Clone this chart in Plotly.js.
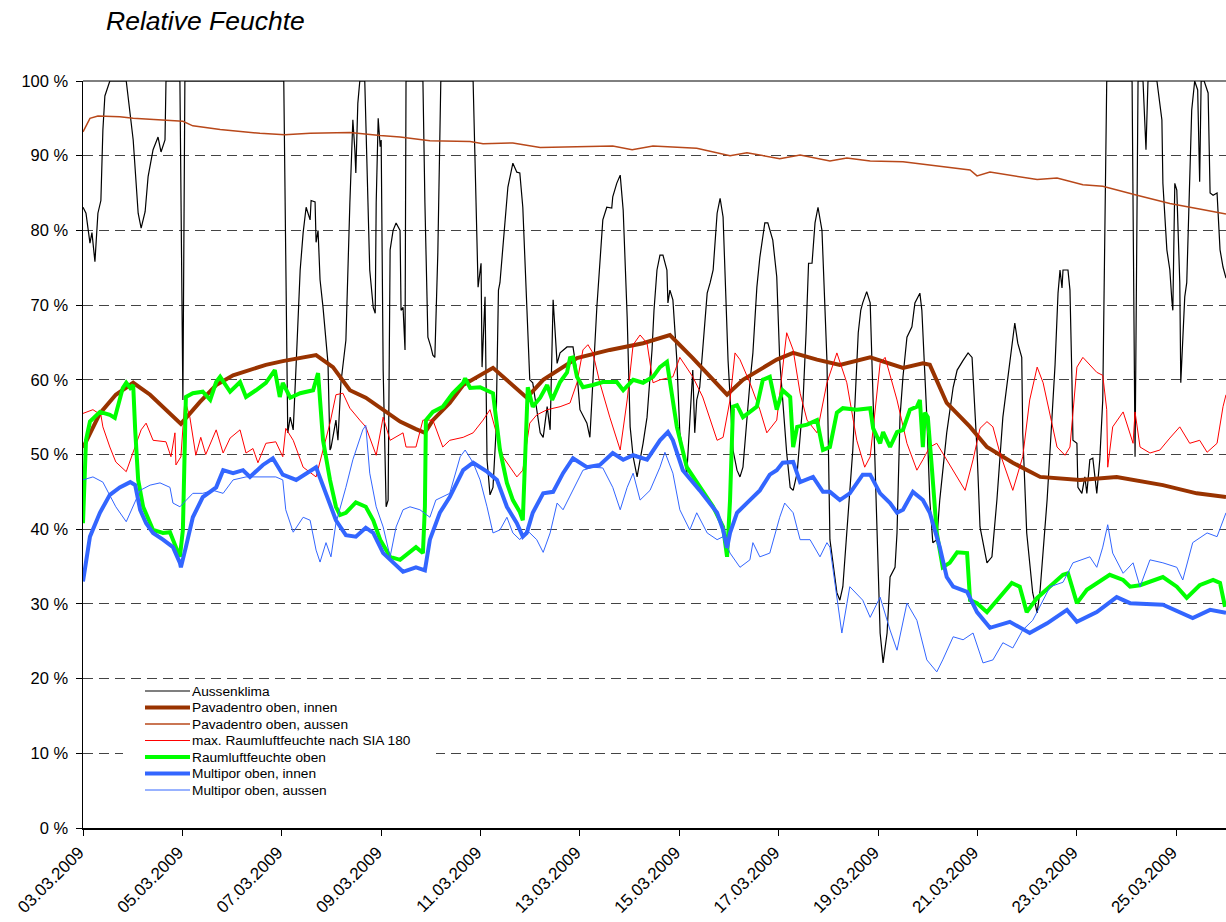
<!DOCTYPE html>
<html>
<head>
<meta charset="utf-8">
<script src="https://cdn.plot.ly/plotly-3.0.1.min.js"></script>
<style>html,body{margin:0;padding:0;background:#fff;}#chart{width:1226px;height:922px;}</style>
</head>
<body>
<div id="chart"></div>
<script>
// Day offsets from 03.03.2009 00:00, relative humidity in %
const startDate = Date.UTC(2009, 2, 3);
const seriesNames = ["Aussenklima", "Pavadentro oben, innen", "Pavadentro oben, aussen",
  "max. Raumluftfeuchte nach SIA 180", "Raumluftfeuchte oben", "Multipor oben, innen", "Multipor oben, aussen"];

const aussenklima = [[0,83.1],[0.06,82.3],[0.14,78.3],[0.18,79.7],[0.24,75.8],[0.30,82.3],[0.36,84],[0.40,93.4],[0.44,98],[0.54,100],[0.87,100],[1.01,92.1],[1.11,82.3],[1.17,80.3],[1.25,82.5],[1.31,87.2],[1.41,90.8],[1.51,92.5],[1.57,90.5],[1.65,92.1],[1.67,100],[1.95,100],[2.01,57.3],[2.05,100],[4.04,100],[4.12,52.9],[4.17,55],[4.23,53.3],[4.29,62.2],[4.37,74.7],[4.43,79.7],[4.49,83.1],[4.57,81.4],[4.59,84],[4.67,83.8],[4.69,78.4],[4.73,80],[4.77,73.4],[4.83,69.7],[4.93,62.2],[4.97,50.6],[4.99,50.9],[5.09,54.6],[5.13,51.9],[5.19,59.6],[5.29,65.3],[5.37,83.7],[5.43,94.8],[5.47,90.8],[5.49,87.7],[5.53,97],[5.57,100],[5.67,100],[5.77,74.7],[5.84,69.7],[5.88,68.9],[5.90,83.7],[5.94,95],[5.98,91.2],[6.00,92.1],[6.04,61.3],[6.10,43],[6.14,43.9],[6.18,77.4],[6.24,80],[6.30,81],[6.38,80],[6.40,69.3],[6.44,69.7],[6.48,64],[6.50,100],[6.84,100],[6.88,83.7],[6.94,65.7],[7.00,64.4],[7.04,63.3],[7.08,63],[7.14,77],[7.20,100],[7.85,100],[7.95,72.4],[8.01,75.6],[8.03,61.7],[8.09,71.1],[8.13,49.3],[8.19,44.6],[8.25,45.6],[8.31,52.9],[8.36,72],[8.39,73],[8.55,85.8],[8.65,89],[8.73,87.8],[8.79,87.7],[8.85,83.1],[8.99,60],[9.05,59.6],[9.20,52.9],[9.26,52.3],[9.34,56.4],[9.40,53.3],[9.44,68],[9.46,70.7],[9.54,62.2],[9.60,63.6],[9.74,64.4],[9.86,64.4],[9.94,60.9],[10.00,56],[10.14,54.2],[10.20,52.3],[10.34,69.7],[10.40,75.6],[10.46,81.4],[10.54,83.1],[10.64,83],[10.66,84.5],[10.74,86.3],[10.81,87.4],[10.87,82.7],[10.95,68.4],[11.01,53.7],[11.07,49.7],[11.15,47],[11.21,49.3],[11.27,51.5],[11.35,55],[11.45,64],[11.49,69.3],[11.55,74.7],[11.61,76.7],[11.67,76.7],[11.75,74.7],[11.77,70.3],[11.81,72],[11.87,70.7],[11.95,62.6],[12.01,52.9],[12.15,47.5],[12.27,61.3],[12.31,52.9],[12.35,57.3],[12.41,59],[12.56,71.6],[12.62,73],[12.68,74.7],[12.76,82.3],[12.82,84.3],[12.88,81.8],[12.98,62.6],[13.08,50.6],[13.16,47.9],[13.22,47],[13.28,48.3],[13.42,59.6],[13.48,63.6],[13.56,72.4],[13.62,76.4],[13.72,81],[13.78,81],[13.88,78.7],[13.96,73.8],[14.02,62.6],[14.08,57.3],[14.16,50.2],[14.23,45.6],[14.29,45.2],[14.37,47.5],[14.49,57.3],[14.55,66.3],[14.60,75.6],[14.67,75.6],[14.73,81],[14.79,83.1],[14.87,80],[14.97,62.6],[15.03,38.6],[15.17,31.5],[15.23,30.5],[15.29,32.3],[15.37,39.5],[15.49,50.6],[15.60,66.3],[15.65,69.3],[15.69,70.3],[15.77,71.8],[15.84,70.3],[15.90,57.3],[15.98,39.5],[16.04,26.1],[16.10,22.1],[16.18,26.1],[16.24,33.6],[16.34,34.9],[16.38,39.5],[16.44,55],[16.50,60.4],[16.58,65.7],[16.68,67.1],[16.74,70.3],[16.84,71.6],[16.88,69.3],[16.98,55],[17.04,43.9],[17.10,38.2],[17.18,38.6],[17.24,43.9],[17.38,52.9],[17.51,59],[17.59,61.3],[17.71,62.6],[17.81,63.6],[17.89,63],[17.91,60.4],[17.99,50.6],[18.05,40.3],[18.19,35.5],[18.29,36.3],[18.39,43.9],[18.51,55],[18.65,62.6],[18.75,67.6],[18.81,64.9],[18.89,63],[18.91,52.9],[18.99,39.5],[19.11,31.5],[19.20,28.8],[19.26,31.9],[19.40,43.9],[19.46,50.6],[19.56,62],[19.62,71.6],[19.66,74.7],[19.70,72.3],[19.72,74.7],[19.82,74.7],[19.86,72],[19.90,60],[19.92,51.9],[20.00,51.5],[20.02,45.6],[20.10,44.8],[20.16,47],[20.20,44.8],[20.26,49.3],[20.32,49.5],[20.40,44.8],[20.46,49.3],[20.52,57.3],[20.60,100],[21.11,100],[21.17,49.7],[21.23,100],[21.33,100],[21.39,90.8],[21.43,100],[21.61,100],[21.71,94.8],[21.73,86.3],[21.81,77.4],[21.87,74.7],[21.91,70.7],[21.93,69.3],[21.97,86.3],[22.01,85.4],[22.07,73],[22.09,59.6],[22.17,71.1],[22.21,73],[22.31,96.1],[22.37,100],[22.43,98.8],[22.47,86.5],[22.50,100],[22.56,100],[22.64,98.4],[22.68,85],[22.74,84.7],[22.82,85],[22.88,77.4],[22.94,75.1],[23.00,73.6]];

const pavInnen = [[0,50.9],[0.34,55.5],[0.66,58],[1.01,59.6],[1.35,58],[1.67,56],[1.97,54.1],[2.35,57],[2.68,59.3],[3.02,60.6],[3.36,61.3],[3.68,62],[4.02,62.5],[4.69,63.3],[5.03,61.7],[5.37,58.6],[5.69,57.6],[6.04,56],[6.38,54.4],[6.70,53.4],[6.88,52.9],[7.04,54.6],[7.38,56.9],[7.65,59.3],[8.25,61.6],[8.93,57.6],[9.26,60],[9.94,62.9],[10.60,64],[11.27,64.9],[11.81,66],[12.27,62.9],[12.96,58],[13.28,60],[13.96,62.7],[14.29,63.6],[14.77,62.7],[15.23,62],[15.84,63],[16.50,61.6],[16.90,62.2],[17.04,62],[17.38,56.9],[17.85,53.7],[18.19,51],[18.71,48.9],[19.26,47],[20.06,46.6],[20.80,47],[21.73,45.9],[22.41,44.8],[23.0,44.3]];

const pavAussen = [[0,93.2],[0.14,95.0],[0.30,95.3],[0.74,95.2],[1.01,95.0],[1.65,94.8],[2.01,94.6],[2.21,94.0],[2.76,93.5],[3.56,93.0],[4.06,92.8],[4.57,93.0],[5.37,93.1],[5.98,92.7],[6.38,92.5],[6.98,92.0],[7.79,91.9],[8.05,91.6],[8.65,91.7],[9.20,91.1],[10.0,91.2],[10.66,91.3],[11.05,90.8],[11.47,91.3],[12.35,91.0],[13.02,90.0],[13.36,90.4],[14.02,89.6],[14.43,90.1],[15.03,89.3],[15.37,89.7],[15.84,89.3],[16.50,89.2],[17.85,88.1],[17.99,87.3],[18.25,87.8],[19.20,86.8],[19.60,87.0],[20.12,86.1],[20.52,85.9],[21.21,84.7],[21.87,83.6],[22.52,82.8],[23.0,82.2]];

const siaMax = [[0,55.5],[0.20,56],[0.36,55.3],[0.40,53.7],[0.54,51],[0.66,49],[0.87,47.7],[1.01,50.2],[1.17,53.3],[1.27,54.2],[1.41,51.9],[1.67,51.7],[1.77,49.7],[1.85,52.9],[1.87,48.6],[1.97,49.7],[2.05,57.3],[2.15,55],[2.27,49.9],[2.37,52.3],[2.47,50],[2.68,53.3],[2.82,50.2],[2.96,52.2],[3.16,53.3],[3.28,50.2],[3.42,50.8],[3.52,48.9],[3.68,51.5],[3.88,51.7],[4.02,49.7],[4.08,53.5],[4.23,51.9],[4.43,48.3],[4.69,47],[4.97,54.2],[5.09,58],[5.23,58.2],[5.37,56.2],[5.57,54.6],[5.69,53.7],[5.90,49.9],[6.04,55],[6.18,51.9],[6.44,52.9],[6.50,51],[6.70,51],[6.84,54.6],[7.04,54.6],[7.24,51],[7.38,51.9],[7.65,52.3],[7.85,52.9],[8.05,54.6],[8.19,56],[8.45,49.7],[8.73,47],[8.85,47.9],[8.99,54.2],[9.13,55.3],[9.34,56],[9.60,56.4],[9.80,56.9],[9.94,59.6],[10.06,64],[10.16,64.7],[10.26,63.6],[10.40,59.6],[10.60,55],[10.81,50.6],[10.95,57.3],[11.07,64.7],[11.21,66],[11.35,64.9],[11.47,59.6],[11.61,60],[11.87,60.4],[12.01,63],[12.27,60.4],[12.47,57.7],[12.76,51.9],[12.88,52.3],[13.02,57.3],[13.12,63.6],[13.22,62.7],[13.42,59.6],[13.62,56],[13.76,52.9],[13.96,54.6],[14.16,66.3],[14.29,64],[14.43,58.2],[14.57,54.6],[14.77,52.9],[14.97,59.6],[15.17,63.6],[15.37,59.6],[15.57,51.9],[15.73,48.3],[15.84,49.7],[16.04,62.2],[16.14,63],[16.38,57.3],[16.58,51.5],[16.78,47.9],[16.90,49.3],[17.04,51],[17.18,51.5],[17.59,47],[17.75,45.2],[17.91,49.3],[18.05,53.5],[18.19,54.4],[18.31,53.7],[18.45,50.2],[18.71,45.2],[18.91,49.7],[19.05,57.3],[19.20,61.7],[19.32,59.6],[19.60,51],[19.76,49.9],[19.86,51],[20.00,61.7],[20.12,63],[20.40,61],[20.52,60.6],[20.60,56],[20.62,48.3],[20.72,53.7],[20.93,55.7],[21.13,51.5],[21.17,55.7],[21.27,51],[21.47,50.2],[21.67,50.6],[21.87,52.2],[22.07,53.7],[22.27,51.5],[22.47,51.9],[22.62,50.3],[22.82,51.5],[22.94,56.4],[23.0,58]];

const raumluft = [[0,40.8],[0.06,51.9],[0.14,54.4],[0.34,55.7],[0.54,55.3],[0.64,54.9],[0.80,58.9],[0.87,59.6],[0.95,58.9],[1.01,59.3],[1.05,53.3],[1.11,46.6],[1.21,43],[1.41,39.9],[1.61,39.5],[1.75,39.6],[1.87,37.6],[1.95,36.3],[2.01,39.9],[2.05,55.6],[2.07,57.7],[2.21,58.2],[2.41,58.4],[2.56,57.3],[2.68,59.7],[2.76,60.4],[2.96,58.4],[3.16,59.7],[3.28,57.7],[3.48,58.6],[3.68,59.6],[3.86,61.3],[3.96,57.7],[4.02,59.6],[4.17,57.6],[4.37,58.2],[4.63,58.6],[4.73,60.9],[4.77,57.7],[4.83,51.9],[4.97,46.6],[5.09,43],[5.17,41.9],[5.29,42.2],[5.49,43.6],[5.69,43],[5.84,41.2],[5.98,38.6],[6.18,36.3],[6.38,35.9],[6.70,37.6],[6.84,36.8],[6.88,43],[6.90,54.6],[7.04,55.7],[7.24,56.4],[7.44,58.2],[7.65,59.6],[7.69,60.2],[7.79,58.9],[7.99,59],[8.25,58.2],[8.39,50.6],[8.53,46.2],[8.65,43.9],[8.79,42.3],[8.85,41.2],[8.95,59],[9.05,56.4],[9.20,57.6],[9.34,59.3],[9.44,57.3],[9.60,59.7],[9.74,61],[9.80,62.9],[9.86,63],[9.94,60.4],[10.06,59],[10.26,59.3],[10.46,59.7],[10.74,59.7],[10.87,58.6],[11.07,60],[11.27,59.6],[11.47,60.4],[11.61,61.7],[11.75,62.4],[11.81,59.6],[11.95,53.7],[12.15,48.3],[12.41,45.6],[12.68,43],[12.88,40.3],[12.96,36.3],[13.02,43.9],[13.08,56.4],[13.16,56.6],[13.28,55],[13.56,56.4],[13.68,60],[13.82,60.4],[13.96,56],[14.08,58.6],[14.23,57.7],[14.29,51],[14.37,53.7],[14.57,54],[14.77,54.6],[14.89,50.6],[15.03,51],[15.17,55.6],[15.29,56.2],[15.57,56],[15.84,56.2],[15.90,53.5],[16.04,51.5],[16.10,53],[16.24,51],[16.38,53],[16.50,53.3],[16.64,56],[16.78,56.4],[16.84,57.3],[16.90,51],[16.94,55.6],[17.00,55],[17.08,48.3],[17.18,39.5],[17.30,34.9],[17.44,35.5],[17.59,36.9],[17.79,36.8],[17.85,30.5],[17.99,30.1],[18.19,28.9],[18.39,30.5],[18.59,31.9],[18.69,32.8],[18.85,32.3],[18.99,28.9],[19.20,30.8],[19.46,32.3],[19.72,33.9],[19.82,34.1],[20.00,30.1],[20.20,31.9],[20.40,32.8],[20.66,33.9],[20.93,33.2],[21.07,32.3],[21.27,32.5],[21.53,33.2],[21.73,33.6],[22.01,32.3],[22.21,30.8],[22.47,32.5],[22.74,33.2],[22.88,32.8],[22.98,29.6]];

const multiporInnen = [[0,33],[0.14,39],[0.34,42.2],[0.54,44.6],[0.74,45.6],[0.95,46.3],[1.05,45.9],[1.15,42.6],[1.27,40.8],[1.41,39.5],[1.61,38.6],[1.81,37.6],[1.95,35.5],[1.97,34.9],[2.07,37.6],[2.21,41.6],[2.41,44.3],[2.68,45.6],[2.82,47.9],[3.02,47.5],[3.22,47.9],[3.36,47],[3.62,48.6],[3.82,49.5],[4.02,47.3],[4.29,46.6],[4.69,48.3],[4.89,44.8],[5.09,41.2],[5.29,39.2],[5.49,39],[5.69,40.2],[5.84,39.5],[6.04,36.8],[6.24,35.5],[6.44,34.3],[6.70,34.9],[6.88,34.5],[6.98,38.6],[7.18,42.2],[7.38,44.3],[7.65,47.9],[7.85,48.9],[8.13,47.7],[8.33,46.6],[8.53,43],[8.73,40.8],[8.85,39],[8.93,39.5],[9.05,42.2],[9.26,44.8],[9.46,45],[9.66,47.5],[9.86,49.5],[10.14,48.3],[10.40,48.6],[10.66,50.2],[10.87,49.3],[11.07,49.9],[11.35,49.3],[11.61,51.9],[11.77,53],[11.87,51.9],[12.07,47.9],[12.41,45.2],[12.76,42.2],[12.88,39.9],[12.96,37.5],[13.02,39.5],[13.16,42.2],[13.42,43.9],[13.62,45.2],[13.82,47.3],[13.96,47.9],[14.08,48.9],[14.29,49],[14.43,46.3],[14.69,47],[14.89,45],[15.03,45],[15.23,43.9],[15.43,44.8],[15.69,47.3],[15.84,47.3],[16.04,44.8],[16.24,43.5],[16.38,42.2],[16.50,42.6],[16.70,45],[16.90,43.9],[17.04,42.2],[17.24,37.6],[17.38,33.6],[17.51,32.3],[17.79,31.6],[17.99,28.9],[18.25,26.8],[18.65,27.6],[19.05,26.1],[19.40,27.4],[19.80,29.2],[20.00,27.6],[20.40,28.9],[20.80,30.9],[21.07,30.1],[21.73,29.9],[22.33,28.1],[22.68,29.2],[23.0,28.8]];

const multiporAussen = [[0,46.6],[0.20,47],[0.40,46.3],[0.66,43],[0.87,41],[1.01,43],[1.15,45.2],[1.35,45.9],[1.55,46.2],[1.75,45.6],[1.81,43.5],[1.95,43],[2.07,43.9],[2.21,44.8],[2.41,44.8],[2.62,45.2],[2.82,44.8],[3.02,46.6],[3.28,47],[3.56,47],[3.88,47],[4.02,46.6],[4.08,42.6],[4.23,39.6],[4.43,41.6],[4.57,41.2],[4.69,37.2],[4.77,35.6],[4.89,38.2],[4.99,36.3],[5.09,40.8],[5.29,45.6],[5.43,49.3],[5.63,53.3],[5.69,53.9],[5.77,47.5],[5.90,43],[6.04,40.3],[6.18,36.3],[6.30,40.3],[6.44,42.6],[6.58,43],[6.78,42.6],[6.98,41.6],[7.10,43.9],[7.38,44.8],[7.59,49.7],[7.69,50.6],[7.85,48.9],[7.99,46.6],[8.13,43],[8.25,39.5],[8.39,39.9],[8.53,41.6],[8.65,39.5],[8.79,38.6],[8.93,39.9],[9.13,38.6],[9.26,36.9],[9.40,39.5],[9.54,43.5],[9.66,42.6],[9.86,45.2],[10.06,47.9],[10.26,48.3],[10.46,48.2],[10.66,45.6],[10.81,42.6],[10.95,45.6],[11.07,47.5],[11.21,43.9],[11.41,45.2],[11.61,48.3],[11.71,50.3],[11.87,47.5],[12.01,42.6],[12.21,39.9],[12.35,42.2],[12.56,39.5],[12.76,38.6],[12.88,39],[13.02,36.8],[13.22,34.9],[13.42,35.9],[13.48,38.2],[13.62,36.3],[13.82,36.8],[14.02,41.6],[14.12,43.5],[14.29,42.2],[14.43,38.6],[14.63,38.6],[14.83,36.3],[14.97,38.2],[15.03,37.6],[15.17,31],[15.27,26.1],[15.43,32.3],[15.69,30.5],[15.84,28.2],[16.04,30.9],[16.24,26.5],[16.38,23.8],[16.58,30.1],[16.78,27.8],[16.98,22.5],[17.18,20.9],[17.30,22.5],[17.51,25.6],[17.71,25.2],[17.91,26.1],[18.11,22.1],[18.31,22.5],[18.51,24.8],[18.71,24.1],[18.91,26.5],[19.11,27.8],[19.46,32.3],[19.72,32.9],[19.92,35.5],[20.26,36.3],[20.40,34.9],[20.52,37.6],[20.62,40.6],[20.72,36.8],[20.93,34.1],[21.13,35.5],[21.27,32.3],[21.47,35.9],[21.73,35.5],[22.01,34.9],[22.13,33.2],[22.33,38.2],[22.62,39.5],[22.82,39],[23.0,42.2]];

const yTickSuffix = " %";
const xTickFormat = "%d.%m.%Y";

function toX(d) { return startDate + d * 86400000; }
function mk(data, name, color, width) {
  return { x: data.map(p => toX(p[0])), y: data.map(p => p[1]), name: name, type: 'scatter', mode: 'lines',
    line: { color: color, width: width }, hoverinfo: 'skip', showlegend: false };
}

const traces = [
  mk(aussenklima, seriesNames[0], '#000000', 1.2),
  mk(pavInnen, seriesNames[1], '#993300', 4),
  mk(pavAussen, seriesNames[2], '#B8481A', 1.5),
  mk(siaMax, seriesNames[3], '#FF0000', 1),
  mk(raumluft, seriesNames[4], '#00FF00', 4),
  mk(multiporInnen, seriesNames[5], '#3366FF', 4),
  mk(multiporAussen, seriesNames[6], '#3366FF', 1),
];

const FONT = 'Liberation Sans, Arial, sans-serif';
const W = 1226, H = 922, ML = 83, MR = 0, MT = 81, MB = 94;
const plotW = W - ML - MR, plotH = H - MT - MB;
const px2paperX = px => (px - ML) / plotW;
const px2paperY = py => (H - MB - py) / plotH;

// Compact legend with white box (shapes + annotations so the row spacing matches)
const legendShapes = [{ type: 'rect', xref: 'paper', yref: 'paper', x0: px2paperX(123), x1: px2paperX(436),
  y0: px2paperY(800), y1: px2paperY(682), fillcolor: '#ffffff', line: { width: 0 } }];
const legendAnnots = [];
traces.forEach((tr, i) => {
  const yy = px2paperY(691 + i * 16.5);
  legendShapes.push({ type: 'line', xref: 'paper', yref: 'paper', x0: px2paperX(145), x1: px2paperX(190), y0: yy, y1: yy,
    line: { color: tr.line.color, width: tr.line.width } });
  legendAnnots.push({ xref: 'paper', yref: 'paper', x: px2paperX(190), y: yy, xanchor: 'left', yanchor: 'middle',
    text: tr.name, showarrow: false, font: { family: FONT, size: 13.7, color: '#000' } });
});

const layout = {
  width: W, height: H,
  margin: { l: ML, r: MR, t: MT, b: MB, pad: 0 },
  paper_bgcolor: '#ffffff', plot_bgcolor: '#ffffff',
  font: { family: FONT, color: '#000' },
  showlegend: false,
  title: { text: '<i>Relative Feuchte</i>', font: { family: FONT, size: 26.5, color: '#000' },
    xref: 'container', yref: 'container', x: 106 / W, xanchor: 'left', y: 1 - 21 / H, yanchor: 'middle' },
  xaxis: {
    type: 'date', range: [toX(0), toX(23)], tick0: toX(0), dtick: 2 * 86400000, tickformat: xTickFormat,
    tickangle: -45, ticks: 'outside', ticklen: 6, tickcolor: '#000', tickwidth: 1, ticklabelstandoff: 0, ticklabelshift: -4,
    showline: true, linecolor: '#000', linewidth: 2, showgrid: false, zeroline: false,
    tickfont: { family: FONT, size: 17, color: '#000' }
  },
  yaxis: {
    range: [0, 100], tick0: 0, dtick: 10, ticksuffix: yTickSuffix, ticks: 'outside', ticklen: 6, tickcolor: '#000',
    ticklabelstandoff: 4,
    showline: true, linecolor: '#000', linewidth: 1.5, zeroline: false,
    showgrid: true, gridcolor: '#444', gridwidth: 1, griddash: '10px,6px',
    tickfont: { family: FONT, size: 16.5, color: '#000' }
  },
  annotations: legendAnnots,
  shapes: [{ type: 'line', xref: 'paper', yref: 'paper', x0: 0, x1: 1, y0: 1, y1: 1, line: { color: '#000', width: 1 } }].concat(legendShapes)
};

Plotly.newPlot('chart', traces, layout, { staticPlot: true, displayModeBar: false });
</script>
</body>
</html>
